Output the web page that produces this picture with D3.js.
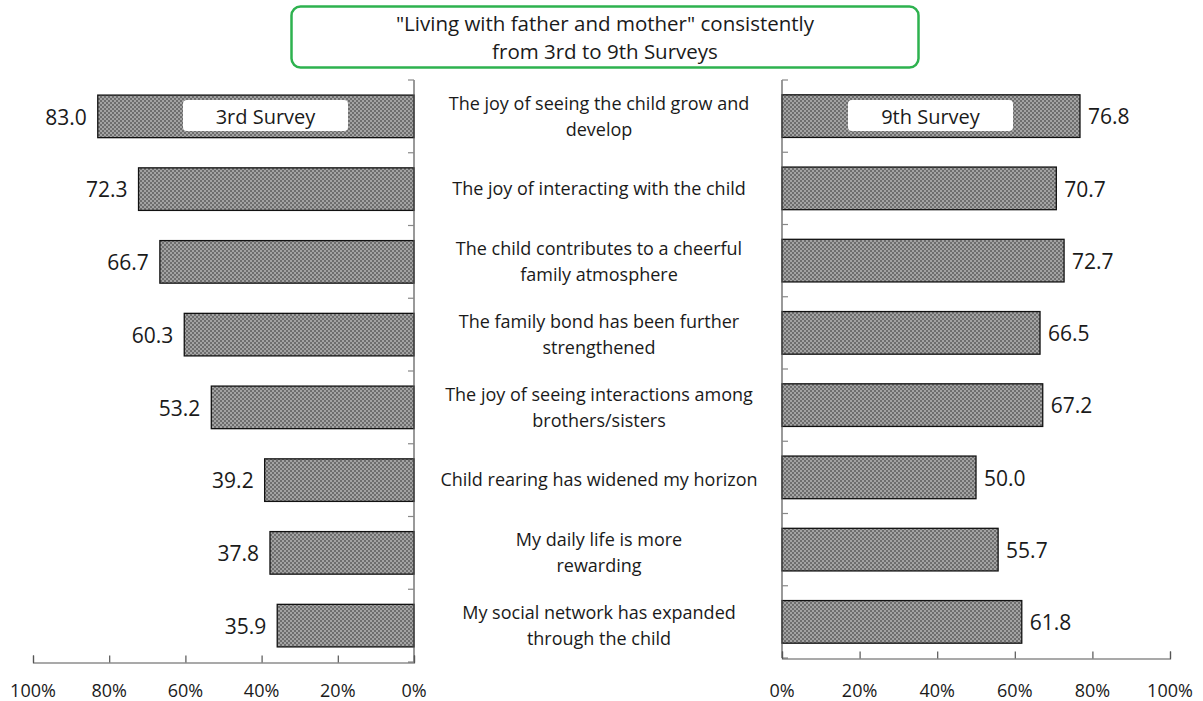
<!DOCTYPE html>
<html>
<head>
<meta charset="utf-8">
<script src="https://cdn.jsdelivr.net/npm/d3@7"></script>
<style>
  html, body { margin: 0; padding: 0; background: #fff; }
  svg { display: block; font-family: "Open Sans", "Liberation Sans", sans-serif; }
</style>
</head>
<body>
<svg id="chart" width="1203" height="701"></svg>
<script>
// Reasons parents feel joy in raising children (%)
const categories = [
  ["The joy of seeing the child grow and", "develop"],
  ["The joy of interacting with the child"],
  ["The child contributes to a cheerful", "family atmosphere"],
  ["The family bond has been further", "strengthened"],
  ["The joy of seeing interactions among", "brothers/sisters"],
  ["Child rearing has widened my horizon"],
  ["My daily life is more", "rewarding"],
  ["My social network has expanded", "through the child"]
];
const survey3 = [83.0, 72.3, 66.7, 60.3, 53.2, 39.2, 37.8, 35.9];
const survey9 = [76.8, 70.7, 72.7, 66.5, 67.2, 50.0, 55.7, 61.8];
const tickValues = [0, 20, 40, 60, 80, 100];
const titleLines = ["\"Living with father and mother\" consistently", "from 3rd to 9th Surveys"];
const panelLabels = ["3rd Survey", "9th Survey"];

const svg = d3.select("#chart");
const idx = d3.range(categories.length);

// checkered fill for the bars
const defs = svg.append("defs");
const pat = defs.append("pattern")
  .attr("id", "checker").attr("patternUnits", "userSpaceOnUse")
  .attr("width", 4).attr("height", 4);
pat.append("rect").attr("width", 4).attr("height", 4).attr("fill", "#a3a3a3");
pat.append("rect").attr("width", 2).attr("height", 2).attr("fill", "#6e6e6e");
pat.append("rect").attr("x", 2).attr("y", 2).attr("width", 2).attr("height", 2).attr("fill", "#6e6e6e");

const textColor = "#1a1a1a";
const axisColor = "#555";

// Title box
svg.append("rect")
  .attr("x", 291.5).attr("y", 6.5).attr("width", 627).attr("height", 61)
  .attr("rx", 9).attr("fill", "#fff").attr("stroke", "#2eb24f").attr("stroke-width", 2.5);
svg.append("text").attr("x", 605).attr("y", 31).attr("text-anchor", "middle")
  .attr("font-size", 20.5).attr("fill", textColor).text(titleLines[0]);
svg.append("text").attr("x", 605).attr("y", 59).attr("text-anchor", "middle")
  .attr("font-size", 20.5).attr("fill", textColor).text(titleLines[1]);

function panel(opts) {
  const { values, x, y, axisX, axisY, side, label, labelBox } = opts;
  const g = svg.append("g");
  const band = y.bandwidth();

  // bars
  g.selectAll("rect.bar").data(idx).join("rect")
    .attr("class", "bar")
    .attr("x", i => side === "left" ? x(values[i]) : x(0))
    .attr("y", i => y(i))
    .attr("width", i => Math.abs(x(values[i]) - x(0)))
    .attr("height", band)
    .attr("fill", "url(#checker)")
    .attr("stroke", "#111").attr("stroke-width", 1.3);

  // value labels
  g.selectAll("text.val").data(idx).join("text")
    .attr("class", "val")
    .attr("x", i => side === "left" ? x(values[i]) - 11 : x(values[i]) + 8)
    .attr("y", i => y(i) + band / 2 + 1)
    .attr("dy", "0.35em")
    .attr("text-anchor", side === "left" ? "end" : "start")
    .attr("font-size", 21).attr("fill", textColor)
    .text(i => values[i].toFixed(1));

  // vertical category axis with ticks between bands
  const step = y.step();
  const r = y.range();
  g.append("line").attr("x1", axisX).attr("x2", axisX).attr("y1", r[0]).attr("y2", r[1])
    .attr("stroke", axisColor).attr("stroke-width", 1.2);
  const dir = side === "left" ? -1 : 1;
  g.selectAll("line.ytick").data(d3.range(categories.length + 1)).join("line")
    .attr("class", "ytick")
    .attr("x1", axisX).attr("x2", axisX + dir * 6)
    .attr("y1", k => r[0] + k * step).attr("y2", k => r[0] + k * step)
    .attr("stroke", "#888").attr("stroke-width", 1.2);

  // horizontal percent axis
  const ax = g.append("g").attr("transform", `translate(0,${axisY})`)
    .call(d3.axisTop(x).tickValues(tickValues).tickSize(7).tickFormat(() => ""));
  ax.select(".domain").attr("stroke", axisColor).attr("stroke-width", 1.2);
  ax.selectAll(".tick line").attr("stroke", axisColor).attr("stroke-width", 1.2);
  g.selectAll("text.xt").data(tickValues).join("text")
    .attr("class", "xt")
    .attr("x", d => x(d)).attr("y", 697)
    .attr("text-anchor", "middle").attr("font-size", 18).attr("fill", textColor)
    .text(d => d + "%");

  // panel label box
  g.append("rect").attr("x", labelBox[0]).attr("y", labelBox[1])
    .attr("width", labelBox[2]).attr("height", labelBox[3])
    .attr("rx", 4).attr("fill", "#fff");
  g.append("text").attr("x", labelBox[0] + labelBox[2] / 2).attr("y", labelBox[1] + labelBox[3] / 2 + 1)
    .attr("dy", "0.35em").attr("text-anchor", "middle")
    .attr("font-size", 20).attr("fill", textColor).text(label);
}

// left panel: 3rd survey, bars grow leftward
const xL = d3.scaleLinear().domain([0, 100]).range([414, 33]);
const yL = d3.scaleBand().domain(idx).range([80, 662]).paddingInner(0.415).paddingOuter(0.2075);
panel({ values: survey3, x: xL, y: yL, axisX: 414, axisY: 662.5, side: "left",
        label: panelLabels[0], labelBox: [183, 100, 165, 31] });

// right panel: 9th survey, bars grow rightward
const xR = d3.scaleLinear().domain([0, 100]).range([782, 1170]);
const yR = d3.scaleBand().domain(idx).range([80, 658]).paddingInner(0.41).paddingOuter(0.205);
panel({ values: survey9, x: xR, y: yR, axisX: 782, axisY: 658.5, side: "right",
        label: panelLabels[1], labelBox: [848, 100, 165, 31] });

// category labels in the middle column
const lineH = 26;
categories.forEach((lines, i) => {
  const cy = yL(i) + yL.bandwidth() / 2;
  const t = svg.append("text").attr("text-anchor", "middle")
    .attr("font-size", 18).attr("fill", textColor);
  lines.forEach((ln, j) => {
    t.append("tspan").attr("x", 599)
      .attr("y", cy + (j - (lines.length - 1) / 2) * lineH)
      .attr("dy", "0.35em").text(ln);
  });
});
</script>
</body>
</html>
